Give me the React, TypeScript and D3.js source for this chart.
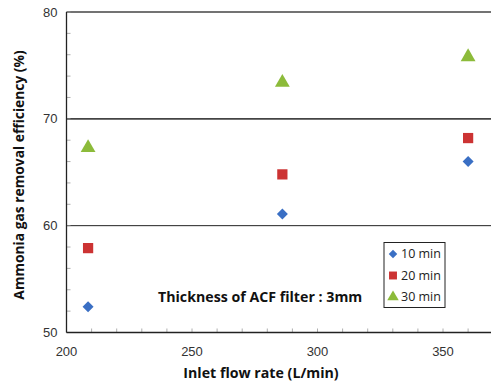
import React from "react";
import * as d3 from "d3";

const flowRates = [208.6, 286, 360];
const eff10 = [52.4, 61.1, 66.0];
const eff20 = [57.9, 64.8, 68.2];
const eff30 = [67.3, 73.4, 75.8];
const seriesNames = ["10 min", "20 min", "30 min"];
const xTicks = [200, 250, 300, 350];
const yTicks = [50, 60, 70, 80];

const W = 492, H = 384;
const M = { left: 66.5, right: 1, top: 12, bottom: 51.5 };

const diamond = (r: number) => `M0,${-r}L${r},0L0,${r}L${-r},0Z`;

export default function App() {
  const x = d3.scaleLinear().domain([200, 370]).range([M.left, M.left + 2.51 * 170]);
  const y = d3.scaleLinear().domain([50, 80]).range([H - M.bottom, M.top]);
  const colors = ["#3a6fc4", "#cc3333", "#8cbb3a"];
  const series = [eff10, eff20, eff30];
  const shape = [d3.symbolDiamond, d3.symbolSquare, d3.symbolTriangle];
  const sizes = [60, 105, 95];
  const sym = (i: number, scale = 1) =>
    i === 0 ? diamond(5.5 * Math.sqrt(scale)) : (d3.symbol().type(shape[i]).size(sizes[i] * scale)() as string);
  const minorY = d3.range(50, 80.01, 2);
  const minorX = d3.range(200, 370, 10);
  const x0 = x(200), xr = W - 1, yb = y(50);
  const font = "'Liberation Sans', Arial, sans-serif";
  const bold = "'Open Sans', sans-serif";
  return (
    <svg width={W} height={H} style={{ position: "absolute", left: 0, top: 0 }}>
      <rect width={W} height={H} fill="#fff" />
      {[60, 70, 80].map((v) => (
        <line key={v} x1={x0} x2={xr} y1={y(v)} y2={y(v)} stroke={v === 60 ? "#222" : "#444"} strokeWidth={v === 60 ? 1 : 1.6} />
      ))}
      {minorY.map((v) => (
        <line key={"my" + v} x1={x0} x2={x0 + 4} y1={y(v)} y2={y(v)} stroke="#999" strokeWidth={0.8} />
      ))}
      {minorX.map((v) => (
        <line key={"mx" + v} x1={x(v)} x2={x(v)} y1={yb} y2={yb - 4} stroke="#999" strokeWidth={0.8} />
      ))}
      <line x1={x0} x2={x0} y1={y(80)} y2={yb} stroke="#222" strokeWidth={1.3} />
      <line x1={x0} x2={xr} y1={yb} y2={yb} stroke="#222" strokeWidth={1.3} />
      {yTicks.map((v) => (
        <text key={"yt" + v} x={x0 - 9} y={y(v)} dy="0.35em" textAnchor="end" fontFamily={font} fontSize={13} fill="#333">{v}</text>
      ))}
      {xTicks.map((v) => (
        <text key={"xt" + v} x={x(v)} y={yb + 23} textAnchor="middle" fontFamily={font} fontSize={13} fill="#333">{v}</text>
      ))}
      {series.map((s, i) =>
        s.map((v, j) => (
          <path key={i + "-" + j} d={sym(i)} transform={`translate(${x(flowRates[j])},${y(v)})`} fill={colors[i]} />
        ))
      )}
      <text x={158} y={302} fontFamily={bold} fontWeight="bold" fontSize={14.2} fill="#111">Thickness of ACF filter : 3mm</text>
      <rect x={384} y={242.5} width={61} height={65} fill="#fff" stroke="#222" strokeWidth={1} />
      {seriesNames.map((n, i) => (
        <g key={n} transform={`translate(393,${254 + i * 21.5})`}>
          <path d={sym(i, 0.6)} fill={colors[i]} />
          <text x={8} y={0} dy="0.35em" fontFamily={bold} fontSize={12.5} fill="#222">{n}</text>
        </g>
      ))}
      <text x={261} y={378} textAnchor="middle" fontFamily={bold} fontWeight="bold" fontSize={14.2} fill="#111">Inlet flow rate (L/min)</text>
      <text transform={`translate(24,175) rotate(-90)`} textAnchor="middle" fontFamily={bold} fontWeight="bold" fontSize={13.8} fill="#111">Ammonia gas removal efficiency (%)</text>
    </svg>
  );
}
